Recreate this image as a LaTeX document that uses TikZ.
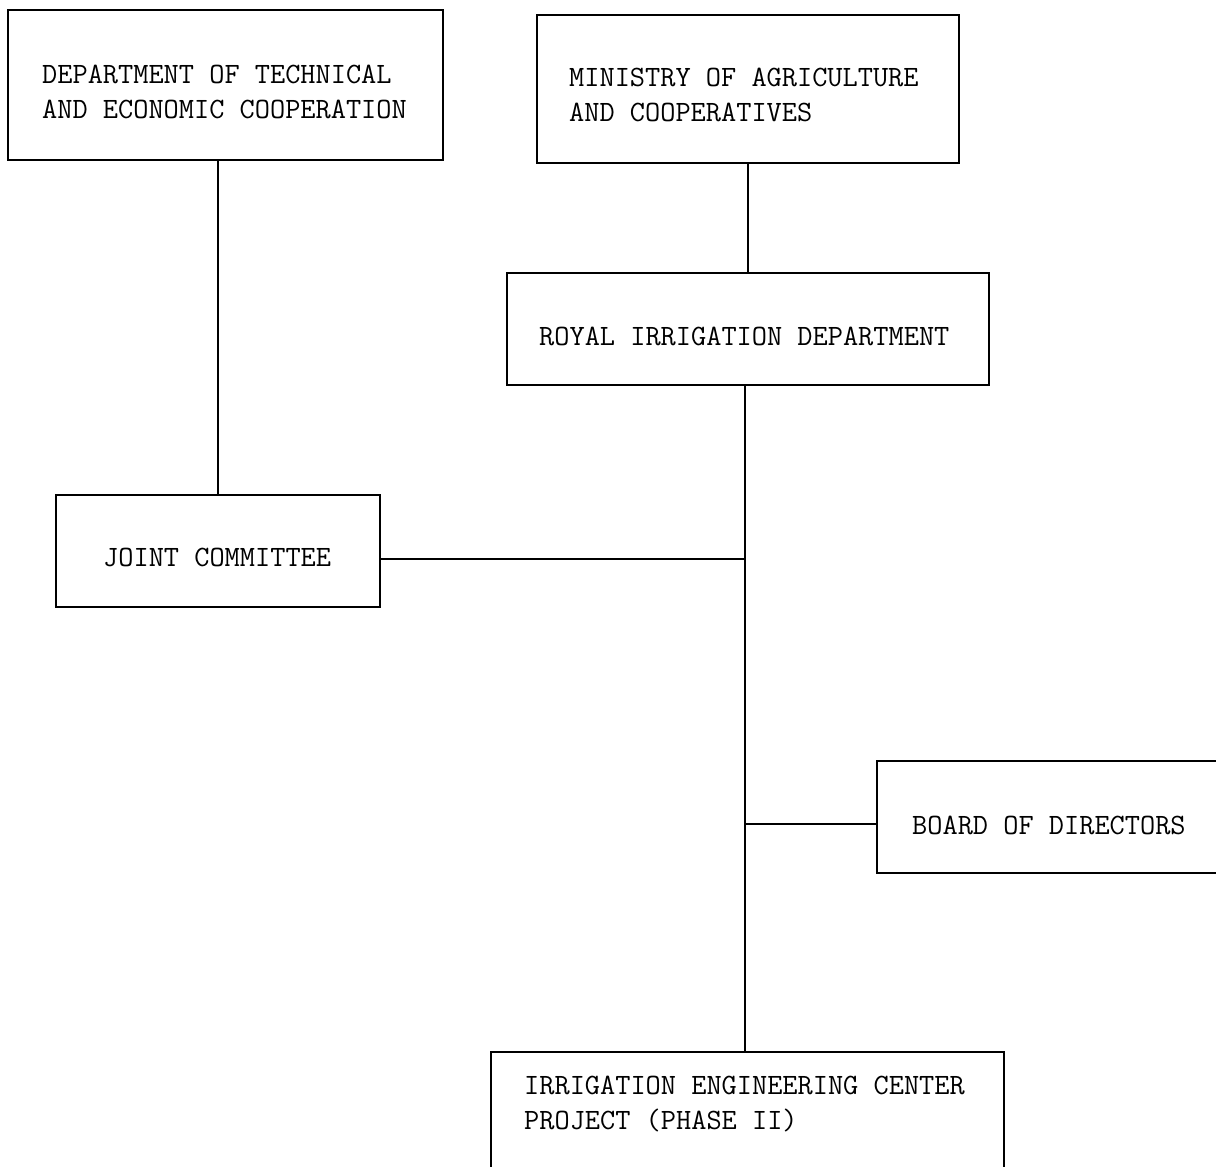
\documentclass[tikz,border=0pt]{standalone}
\usepackage{fontspec}
\begin{document}
\begin{tikzpicture}[x=1pt,y=-1pt,
  box/.style={draw=black,line width=1.8pt,rectangle,inner sep=0pt},
  lbl/.style={anchor=west,inner sep=0pt,align=left,font=\fontsize{29.5}{35}\selectfont\ttfamily,text=black},
  conn/.style={draw=black,line width=1.8pt}]
\useasboundingbox (0,0) rectangle (1216,1167);
\clip (0,0) rectangle (1216,1167);
\fill[white] (0,0) rectangle (1216,1167);
% boxes
\node[box,minimum width=435pt,minimum height=150pt] (b1) at (225.5,85) {};
\node[box,minimum width=422pt,minimum height=148pt] (b2) at (748,89) {};
\node[box,minimum width=482pt,minimum height=112pt] (b3) at (748,329) {};
\node[box,minimum width=324pt,minimum height=112pt] (b4) at (218,551) {};
\node[box,minimum width=353pt,minimum height=112pt] (b5) at (1053.5,817) {};
\node[box,minimum width=513pt,minimum height=138pt] (b6) at (747.5,1121) {};
% texts
\node[lbl] (t1) at (42,92) {DEPARTMENT OF TECHNICAL\\AND ECONOMIC COOPERATION};
\node[lbl] (t2) at (569,95) {MINISTRY OF AGRICULTURE\\AND COOPERATIVES};
\node[lbl] (t3) at (539,336) {ROYAL IRRIGATION DEPARTMENT};
\node[lbl] (t4) at (103,557) {JOINT COMMITTEE};
\node[lbl] (t5) at (912,825) {BOARD OF DIRECTORS};
\node[lbl] (t6) at (524,1104) {IRRIGATION ENGINEERING CENTER\\PROJECT (PHASE II)};
% junctions
\coordinate (j1) at (745,559);
\coordinate (j2) at (745,824);
% connectors
\draw[conn] (b4.north) -- (b4.north |- b1.south);
\draw[conn] (b2.south) -- (b3.north);
\draw[conn] (b3.south -| j1) -- (b6.north -| j1);
\draw[conn] (j1 -| b4.east) -- (j1);
\draw[conn] (j2) -- (j2 -| b5.west);
\end{tikzpicture}
\end{document}
